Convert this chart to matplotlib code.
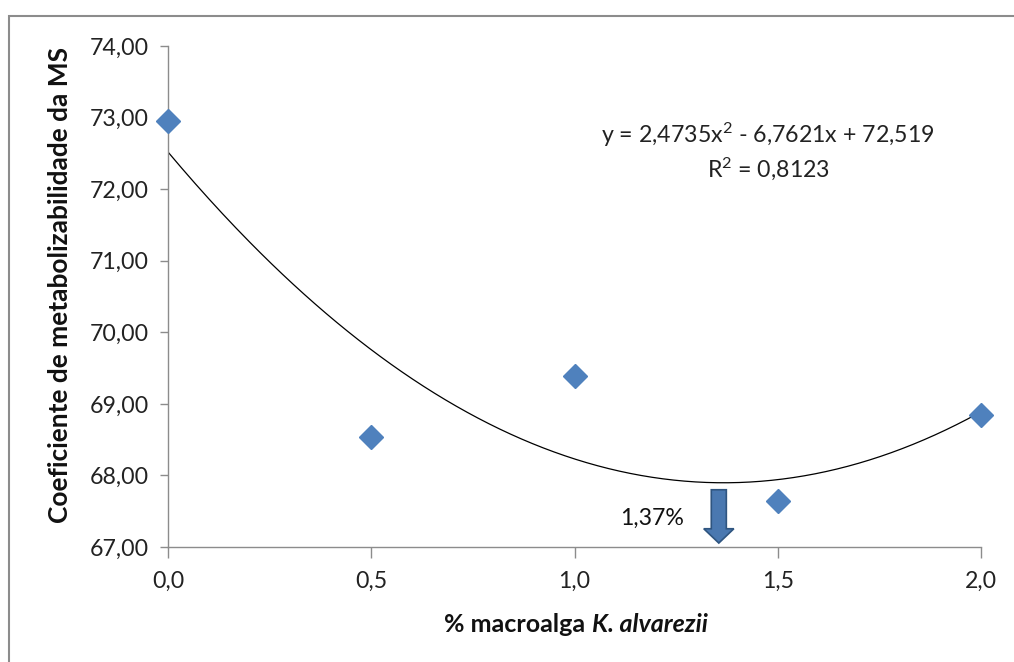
import matplotlib
matplotlib.use("Agg")
import matplotlib.pyplot as plt
import numpy as np
from matplotlib.patches import FancyArrow, Rectangle

plt.rcParams['font.family'] = ['Lato', 'DejaVu Sans']
plt.rcParams['mathtext.fontset'] = 'custom'
plt.rcParams['mathtext.rm'] = 'Lato'
plt.rcParams['mathtext.it'] = 'Lato:italic'
plt.rcParams['mathtext.bf'] = 'Lato:bold'

x_vals = [0.0, 0.5, 1.0, 1.5, 2.0]
y_vals = [72.95, 68.53, 69.39, 67.64, 68.85]
coef = [2.4735, -6.7621, 72.519]
x_ticks = [0.0, 0.5, 1.0, 1.5, 2.0]
x_tick_labels = ['0,0', '0,5', '1,0', '1,5', '2,0']
y_ticks = [67, 68, 69, 70, 71, 72, 73, 74]
y_tick_labels = ['67,00', '68,00', '69,00', '70,00', '71,00', '72,00', '73,00', '74,00']
eq_text = 'y = 2,4735x$^{2}$ - 6,7621x + 72,519\nR$^{2}$ = 0,8123'
opt_x = 1.37
opt_label = '1,37%'

W, H = 1014, 662
FS = 16.7
fig = plt.figure(figsize=(W/100, H/100), dpi=100)
# outer border
fig.patches.append(Rectangle((8.5/W, -0.01), 1.1, 1 - 15.5/H + 0.01, transform=fig.transFigure,
                             fill=False, edgecolor='#8c8c8c', linewidth=1.5))

ax = fig.add_axes([168/W, 1 - 547/H, (981-168)/W, (547-46)/H])
ax.set_xlim(0, 2)
ax.set_ylim(67, 74)
for s in ['top', 'right']:
    ax.spines[s].set_visible(False)
for s in ['left', 'bottom']:
    ax.spines[s].set_color('#8c8c8c')
    ax.spines[s].set_linewidth(1.0)
ax.set_xticks(x_ticks)
ax.set_xticklabels(x_tick_labels)
ax.set_yticks(y_ticks)
ax.set_yticklabels(y_tick_labels)
ax.tick_params(axis='both', colors='#8c8c8c', labelcolor='#222222', labelsize=FS, length=6, width=1.0)
ax.tick_params(axis='y', pad=8)
ax.tick_params(axis='x', length=8, pad=9)

xs = np.linspace(0, 2, 300)
ys = np.polyval(coef, xs)
ax.plot(xs, ys, color='black', linewidth=0.9, zorder=2)

ax.plot(x_vals, y_vals, linestyle='none', marker='D', markersize=12.5,
        color='#4F81BD', markeredgecolor='#4F81BD', zorder=3, clip_on=False)

ax.text(1.476, 72.53, eq_text, ha='center', va='center', fontsize=FS, color='#222222',
        linespacing=1.3)

# arrow
arrow_x = opt_x - 0.015
ax.add_patch(FancyArrow(arrow_x, 67.80, 0, -0.745, width=0.037, head_width=0.074,
                        head_length=0.2, length_includes_head=True,
                        facecolor='#4A78B0', edgecolor='#2F5580', linewidth=1.2, zorder=4))
ax.text(1.19, 67.405, opt_label, ha='center', va='center', fontsize=FS, color='#111111')

ax.set_ylabel('Coeficiente de metabolizabilidade da MS', fontsize=18.9, fontweight='bold',
              color='#111111', va='center')
ax.yaxis.set_label_coords((60-168)/813, 0.523)

# x label with italic part
fig.canvas.draw()
r = fig.canvas.get_renderer()
XFS = 18
t1 = fig.text(0, 0, '% macroalga ', fontsize=XFS, fontweight='bold', color='#111111', va='center')
t2 = fig.text(0, 0, 'K. alvarezii', fontsize=XFS, fontweight='bold', style='italic', color='#111111', va='center')
w1 = t1.get_window_extent(r).width
w2 = t2.get_window_extent(r).width
cx = 576
x0 = cx - (w1 + w2) / 2
yc = 1 - 624/H
t1.set_position((x0/W, yc))
t2.set_position(((x0 + w1)/W, yc))

fig.savefig('out.png', dpi=100)
